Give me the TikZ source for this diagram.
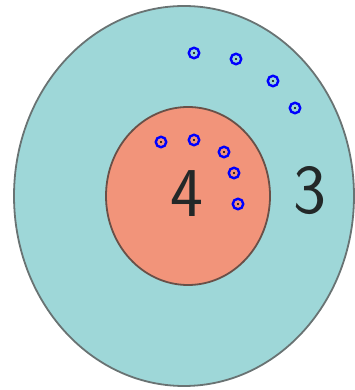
\documentclass[tikz,border=0pt]{standalone}
\usepackage{tikz}
\usepackage{xcolor}
\definecolor{ringteal}{RGB}{158,215,216}
\definecolor{coresalmon}{RGB}{242,148,122}
\definecolor{edgegrey}{RGB}{105,115,115}
\definecolor{edgebrown}{RGB}{105,80,72}
\definecolor{digitdark}{RGB}{35,40,40}
\tikzset{
  zone/.style={line width=1.8pt},
  ring/.style={circle,draw=blue,line width=2.4pt,minimum size=10.5pt,inner sep=0pt},
  digit/.style={font=\sffamily\fontsize{70}{70}\selectfont,text=digitdark,inner sep=0pt},
}

\begin{document}
\begin{tikzpicture}[x=1pt,y=1pt]
    \useasboundingbox (0,0) rectangle (355,390);
    \draw[zone,draw=edgegrey,fill=ringteal] (184,194) ellipse [x radius=170, y radius=190];
    \draw[zone,draw=edgebrown,fill=coresalmon] (188,194) ellipse [x radius=82, y radius=89];
    \node[digit] (four) at (187,196) {4};
    \node[digit] (three) at (310,199) {3};
    \foreach \x/\y [count=\i] in {194/337,236/331,273/309,295/282,161/248,194/250,224/238,234/217,238/186}{
      \node[ring] (p\i) at (\x,\y) {};
      \fill (p\i) circle (1.2pt);
    }
  \end{tikzpicture}
\end{document}
